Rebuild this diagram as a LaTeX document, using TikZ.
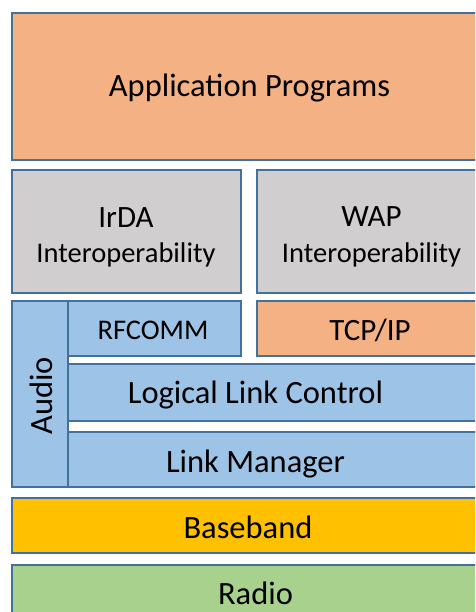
\documentclass[tikz,border=0pt]{standalone}
\usepackage{fontspec}
\setmainfont{Carlito}
\definecolor{edge}{HTML}{41719C}
\definecolor{apporange}{HTML}{F4B183}
\definecolor{stackgray}{HTML}{D0CECE}
\definecolor{stackblue}{HTML}{9DC3E6}
\definecolor{bandgold}{HTML}{FFC000}
\definecolor{radiogreen}{HTML}{A9D18E}
\tikzset{
  layer/.style={draw=edge, line width=1.8pt},
  lbl/.style={anchor=base, inner sep=0pt, text=black},
  big/.style={lbl, font=\fontsize{32.5}{36}\selectfont},
  mid/.style={lbl, font=\fontsize{31}{34}\selectfont},
  small/.style={lbl, font=\fontsize{28.5}{32}\selectfont},
}
\begin{document}
\begin{tikzpicture}[x=1pt, y=-1pt]
  \useasboundingbox (0,0) rectangle (475,612);
  \clip (0,0) rectangle (475,612);
  \fill[white] (0,0) rectangle (475,612);

  % protocol layers, top to bottom
  \path[layer, fill=apporange]  (12,13)  rectangle (487,160);
  \path[layer, fill=stackgray]  (12,170) rectangle (241,293);
  \path[layer, fill=stackgray]  (257,170) rectangle (487,293);
  \path[layer, fill=stackblue]  (12,301) rectangle (68,487);
  \path[layer, fill=stackblue]  (68,301) rectangle (241,356);
  \path[layer, fill=apporange]  (257,301) rectangle (487,356);
  \path[layer, fill=stackblue]  (68,364) rectangle (487,421);
  \path[layer, fill=stackblue]  (68,432) rectangle (487,487);
  \path[layer, fill=bandgold]   (12,498) rectangle (487,553);
  \path[layer, fill=radiogreen] (12,565) rectangle (487,625);

  % labels
  \node[big]   (app)   at (249.5,97)  {Application Programs};
  \node[mid]   (irda)  at (126,227)   {IrDA};
  \node[small] (irdai) at (126,262)   {Interoperability};
  \node[mid]   (wap)   at (371.5,226) {WAP};
  \node[small] (wapi)  at (371.5,262) {Interoperability};
  \node[small] (rf)    at (153,339)   {RFCOMM};
  \node[mid]   (tcp)   at (370,340)   {TCP/IP};
  \node[big, rotate=90] (audio) at (52,396) {Audio};
  \node[big]   (llc)   at (255.5,403) {Logical Link Control};
  \node[big]   (lm)    at (255.5,472) {Link Manager};
  \node[big]   (bb)    at (248,538)   {Baseband};
  \node[big]   (radio) at (255.5,604) {Radio};
\end{tikzpicture}
\end{document}
